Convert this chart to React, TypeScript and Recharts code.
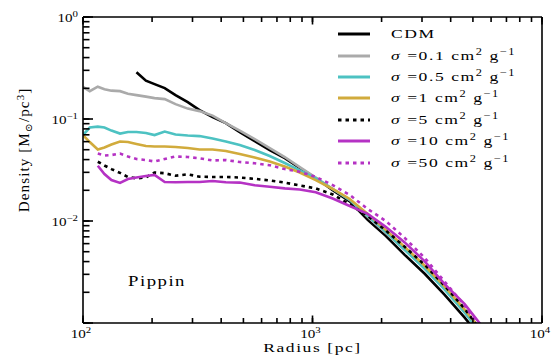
import React from "react";
import { LineChart, Line, XAxis, YAxis, Legend } from "recharts";

// radial bins [pc]
const radius = [100, 107, 116, 124, 133, 145, 157, 171, 188, 205, 227, 253, 286, 322, 367, 419, 482, 560, 651, 757, 880, 1033, 1225, 1453, 1740, 2084, 2522, 3083, 3767, 4604, 5628];

// density [Msun/pc^3] per run
const cdm = [null, null, null, null, null, null, null, 0.2877, 0.2375, 0.2196, 0.2006, 0.1714, 0.1463, 0.1222, 0.1044, 0.0912, 0.0745, 0.0608, 0.0496, 0.0414, 0.0331, 0.0264, 0.0201, 0.01555, 0.01025, 0.00715, 0.00466, 0.00304, 0.00189, 0.00113, 0.00064];
const sig01 = [0.2065, 0.1875, 0.2075, 0.196, 0.1896, 0.1875, 0.1772, 0.1714, 0.1657, 0.1602, 0.1566, 0.1399, 0.1264, 0.1195, 0.1079, 0.0912, 0.077, 0.0636, 0.0519, 0.0424, 0.0338, 0.0267, 0.0206, 0.0161, 0.01097, 0.00765, 0.00522, 0.00348, 0.00217, 0.00129, 0.00073];
const sig05 = [0.0696, 0.0824, 0.0842, 0.0824, 0.077, 0.072, 0.0745, 0.0745, 0.0728, 0.0696, 0.0753, 0.0704, 0.0688, 0.068, 0.0643, 0.0601, 0.0555, 0.0496, 0.0434, 0.037, 0.0313, 0.0261, 0.0206, 0.0161, 0.01122, 0.00782, 0.00522, 0.0034, 0.00212, 0.00126, 0.00072];
const sig1 = [0.0696, 0.0594, 0.0502, 0.0525, 0.0562, 0.0601, 0.0594, 0.0568, 0.0543, 0.0537, 0.0537, 0.0531, 0.0519, 0.0502, 0.0502, 0.0485, 0.0453, 0.0419, 0.0383, 0.0342, 0.0299, 0.0252, 0.0206, 0.01645, 0.01174, 0.00818, 0.00558, 0.00364, 0.00227, 0.00135, 0.00077];
const sig5 = [null, null, 0.0381, 0.035, 0.0323, 0.0296, 0.027, 0.0262, 0.0267, 0.0299, 0.0294, 0.0278, 0.0287, 0.0272, 0.027, 0.027, 0.0267, 0.0259, 0.025, 0.0238, 0.0223, 0.0209, 0.0182, 0.01454, 0.01122, 0.00809, 0.00558, 0.00372, 0.00232, 0.00138, 0.00075];
const sig10 = [null, null, 0.0348, 0.0289, 0.0252, 0.0236, 0.0258, 0.0267, 0.0276, 0.0283, 0.0241, 0.024, 0.0241, 0.0241, 0.0247, 0.024, 0.0238, 0.0224, 0.0217, 0.0209, 0.0204, 0.0191, 0.0166, 0.01405, 0.01174, 0.00876, 0.00617, 0.00402, 0.0024, 0.00153, 0.00086];
const sig50 = [null, null, 0.0458, 0.0438, 0.0443, 0.0458, 0.0429, 0.0405, 0.0396, 0.0383, 0.0405, 0.0429, 0.0424, 0.0412, 0.0392, 0.0396, 0.0379, 0.0368, 0.0352, 0.0323, 0.0304, 0.0271, 0.0225, 0.018, 0.01313, 0.01002, 0.00683, 0.00435, 0.00254, 0.00148, 0.00078];

const xMajor = [100, 1000, 10000];
const xMinor = [200, 300, 400, 500, 600, 700, 800, 900, 2000, 3000, 4000, 5000, 6000, 7000, 8000, 9000];
const yMajor = [0.001, 0.01, 0.1, 1];
const yMinor = [0.002, 0.003, 0.004, 0.005, 0.006, 0.007, 0.008, 0.009, 0.02, 0.03, 0.04, 0.05, 0.06, 0.07, 0.08, 0.09, 0.2, 0.3, 0.4, 0.5, 0.6, 0.7, 0.8, 0.9];
const yLabelled = [0.01, 0.1, 1];

const SERIES = [
  { key: "cdm", sigma: null, values: cdm, color: "#000000", dotted: false },
  { key: "s01", sigma: "0.1", values: sig01, color: "#aaaaaa", dotted: false },
  { key: "s05", sigma: "0.5", values: sig05, color: "#4dc2c2", dotted: false },
  { key: "s1", sigma: "1", values: sig1, color: "#d1ab3c", dotted: false },
  { key: "s5", sigma: "5", values: sig5, color: "#000000", dotted: true },
  { key: "s10", sigma: "10", values: sig10, color: "#b532c4", dotted: false },
  { key: "s50", sigma: "50", values: sig50, color: "#b532c4", dotted: true },
];

const rows = radius.map((r, i) => {
  const row: any = { r };
  SERIES.forEach((s) => (row[s.key] = s.values[i]));
  return row;
});

const SERIF = "'Liberation Serif', 'DejaVu Serif', serif";
const DASH = "3.5 4";
const TICK_LINE = { stroke: "#000", strokeWidth: 1.6 };
const AXIS_LINE = { stroke: "#000", strokeWidth: 1.6 };

function expText(v: number) {
  const e = Math.round(Math.log10(v));
  return e < 0 ? "\u2212" + -e : String(e);
}

// minor ticks come from the axis tickLine; majors get a longer mark here
function BottomTick({ x, y, payload }: any) {
  const v = payload.value;
  if (!xMajor.includes(v)) return <g />;
  return (
    <g>
      <path d={`M${x},${y}l0,-7.5`} stroke="#000" strokeWidth={1.6} fill="none" />
      <text transform={`translate(${x - 2} ${y + 14.5}) scale(1.2 1)`} textAnchor="middle"
        fontFamily={SERIF} fontSize={12.6} fill="#000">
        10<tspan dy={-5} fontSize={9}>{expText(v)}</tspan>
      </text>
    </g>
  );
}

function TopTick({ x, y, payload }: any) {
  if (!xMajor.includes(payload.value)) return <g />;
  return <path d={`M${x},${y}l0,7.5`} stroke="#000" strokeWidth={1.6} fill="none" />;
}

function LeftTick({ x, y, payload }: any) {
  const v = payload.value;
  if (!yMajor.includes(v)) return <g />;
  return (
    <g>
      <path d={`M${x},${y}l10,0`} stroke="#000" strokeWidth={1.6} fill="none" />
      {yLabelled.includes(v) && (
        <text transform={`translate(${x - 5} ${y + 4.5}) scale(1.2 1)`} textAnchor="end"
          fontFamily={SERIF} fontSize={12.6} fill="#000">
          10<tspan dy={-5} fontSize={9}>{expText(v)}</tspan>
        </text>
      )}
    </g>
  );
}

function RightTick({ x, y, payload }: any) {
  if (!yMajor.includes(payload.value)) return <g />;
  return <path d={`M${x},${y}l-10,0`} stroke="#000" strokeWidth={1.6} fill="none" />;
}

function XTitle({ viewBox }: any) {
  const cx = viewBox.x + viewBox.width / 2;
  return (
    <text transform={`translate(${cx} ${viewBox.y + 29}) scale(1.3 1)`} textAnchor="middle"
      fontFamily={SERIF} fontSize={13.5} letterSpacing={1.2} fill="#000">
      Radius [pc]
    </text>
  );
}

function YTitle({ viewBox }: any) {
  const cy = viewBox.y + viewBox.height / 2 - 20;
  return (
    <text transform={`translate(${viewBox.x + 6} ${cy}) rotate(-90) scale(1.08 1)`} textAnchor="middle"
      fontFamily={SERIF} fontSize={14} letterSpacing={1} fill="#000">
      Density [M<tspan dy={3} fontSize={10}>{"\u2299"}</tspan>
      <tspan dy={-3}>/pc</tspan>
      <tspan dy={-5} fontSize={10}>3</tspan>
      <tspan dy={5}>]</tspan>
    </text>
  );
}

const supStyle: React.CSSProperties = { fontSize: 9.5, position: "relative", top: -5 };

function LegendBox() {
  return (
    <div style={{ fontFamily: SERIF, fontSize: 13.5, color: "#000" }}>
      {SERIES.map((s) => (
        <div key={s.key} style={{ display: "flex", alignItems: "center", height: 21.4 }}>
          <svg width={32} height={6} style={{ display: "block" }}>
            <line x1={0} x2={32} y1={3} y2={3} stroke={s.color} strokeWidth={3}
              strokeDasharray={s.dotted ? DASH : undefined} />
          </svg>
          <span style={{ marginLeft: 21, display: "inline-block", whiteSpace: "nowrap", letterSpacing: 1.2,
            transform: "scaleX(1.3)", transformOrigin: "left center" }}>
            {s.sigma === null ? "CDM" : (
              <>
                <i>{"\u03c3"}</i> =
                {s.sigma} cm<span style={supStyle}>2</span> g<span style={supStyle}>{"\u22121"}</span>
              </>
            )}
          </span>
        </div>
      ))}
    </div>
  );
}

export default function App() {
  const xTicks = [...xMajor, ...xMinor];
  const yTicks = [...yMajor, ...yMinor];
  return (
    <div style={{ position: "absolute", left: 0, top: 0, width: 555, height: 357, background: "#fff" }}>
      <LineChart width={555} height={357} data={rows} margin={{ top: 16, right: 12, bottom: 4, left: 23 }}>
        <XAxis dataKey="r" type="number" scale="log" domain={[100, 10000]} allowDataOverflow
          ticks={xTicks} interval={0} height={30} tickSize={-5} tickMargin={5}
          tickLine={TICK_LINE} axisLine={AXIS_LINE} tick={<BottomTick />}
          label={(p: any) => <XTitle {...p} />} />
        <XAxis xAxisId="top" orientation="top" dataKey="r" type="number" scale="log" domain={[100, 10000]}
          ticks={xTicks} interval={0} height={1} tickSize={-5} tickMargin={5}
          tickLine={TICK_LINE} axisLine={AXIS_LINE} tick={<TopTick />} />
        <YAxis type="number" scale="log" domain={[0.001, 1]} allowDataOverflow
          ticks={yTicks} interval={0} width={60} tickSize={-6.5} tickMargin={6.5}
          tickLine={TICK_LINE} axisLine={AXIS_LINE} tick={<LeftTick />}
          label={(p: any) => <YTitle {...p} />} />
        <YAxis yAxisId="right" orientation="right" type="number" scale="log" domain={[0.001, 1]}
          ticks={yTicks} interval={0} width={1} tickSize={-6.5} tickMargin={6.5}
          tickLine={TICK_LINE} axisLine={AXIS_LINE} tick={<RightTick />} />
        {SERIES.map((s) => (
          <Line key={s.key} dataKey={s.key} type="linear" stroke={s.color} strokeWidth={2.6}
            strokeDasharray={s.dotted ? DASH : undefined} dot={false} activeDot={false}
            isAnimationActive={false} />
        ))}
        <Legend layout="vertical" align="center" verticalAlign="middle" content={() => <LegendBox />}
          wrapperStyle={{ left: 338, top: 23.6, width: "auto", height: "auto" }} />
      </LineChart>
      <div style={{ position: "absolute", left: 128, top: 272, fontFamily: SERIF, fontSize: 15, letterSpacing: 1.2,
        transform: "scaleX(1.25)", transformOrigin: "left center", lineHeight: "18px" }}>
        Pippin
      </div>
    </div>
  );
}
